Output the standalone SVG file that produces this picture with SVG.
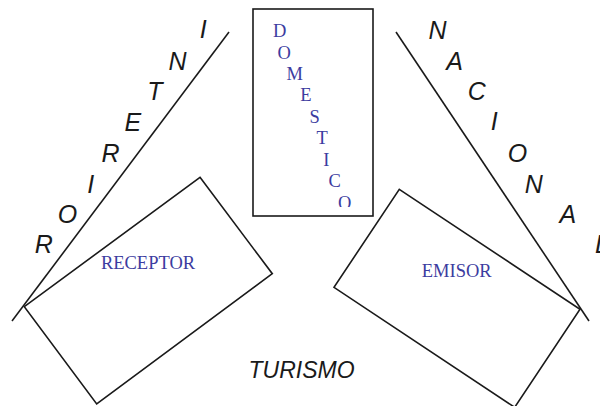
<svg xmlns="http://www.w3.org/2000/svg" width="600" height="406" viewBox="0 0 600 406">
  <style>
    .edge { fill: none; stroke: #1a1a1a; stroke-width: 1.6; }
    .box { fill: #ffffff; stroke: #1a1a1a; stroke-width: 1.6; }
    .side { font-family: "Liberation Sans", Arial, sans-serif; font-style: italic; font-size: 25px; fill: #1a1a1a; text-anchor: middle; }
    .name { font-family: "Liberation Serif", "Times New Roman", serif; font-size: 18.5px; fill: #3c3ca0; text-anchor: middle; }
    .title { font-family: "Liberation Sans", Arial, sans-serif; font-style: italic; font-size: 23px; fill: #1a1a1a; text-anchor: middle; }
  </style>
  <defs>
    <clipPath id="domClip">
      <rect x="253" y="9" width="120" height="198"/>
    </clipPath>
  </defs>
  <rect width="600" height="406" fill="#ffffff"/>

  <!-- divider lines -->
  <g id="connectors">
    <line class="edge" x1="229" y1="32" x2="12" y2="321"/>
    <line class="edge" x1="396" y1="32" x2="589" y2="321"/>
  </g>

  <!-- left side label, read from bottom up -->
  <g id="interior">
    <text class="side" x="43.8" y="253.3">R</text>
    <text class="side" x="67.5" y="222.7">O</text>
    <text class="side" x="90.8" y="192.7">I</text>
    <text class="side" x="110.5" y="162.3">R</text>
    <text class="side" x="132.8" y="130.7">E</text>
    <text class="side" x="155" y="100">T</text>
    <text class="side" x="177.5" y="70">N</text>
    <text class="side" x="203.3" y="38.3">I</text>
  </g>

  <!-- right side label -->
  <g id="nacional">
    <text class="side" x="437.5" y="39">N</text>
    <text class="side" x="454.7" y="70">A</text>
    <text class="side" x="476.7" y="100">C</text>
    <text class="side" x="494.2" y="130">I</text>
    <text class="side" x="517.5" y="161.7">O</text>
    <text class="side" x="533.7" y="192.7">N</text>
    <text class="side" x="567.8" y="222.7">A</text>
    <text class="side" x="602" y="253.3">L</text>
  </g>

  <!-- domestic box -->
  <g id="domestico">
    <rect class="box" x="253" y="9" width="120" height="207"/>
    <g clip-path="url(#domClip)">
      <text class="name" x="279.7" y="36.7">D</text>
      <text class="name" x="284.3" y="58.7">O</text>
      <text class="name" x="294.7" y="80">M</text>
      <text class="name" x="305.8" y="101">E</text>
      <text class="name" x="314.7" y="122.7">S</text>
      <text class="name" x="322.2" y="144">T</text>
      <text class="name" x="326.3" y="165.7">I</text>
      <text class="name" x="334.7" y="186.7">C</text>
      <text class="name" x="344.7" y="209">O</text>
    </g>
  </g>

  <!-- receptor box -->
  <g id="receptor">
    <polygon class="box" points="200,177.3 272.3,273.7 96.7,404 24.3,306.7"/>
    <text class="name" x="148" y="269.3">RECEPTOR</text>
  </g>

  <!-- emisor box -->
  <g id="emisor">
    <polygon class="box" points="399.3,189.3 580,309.3 514.7,407.3 334,287.3"/>
    <text class="name" x="456.7" y="276.7">EMISOR</text>
  </g>

  <!-- bottom label -->
  <g id="turismo">
    <text class="title" x="301.5" y="378.3">TURISMO</text>
  </g>
</svg>
